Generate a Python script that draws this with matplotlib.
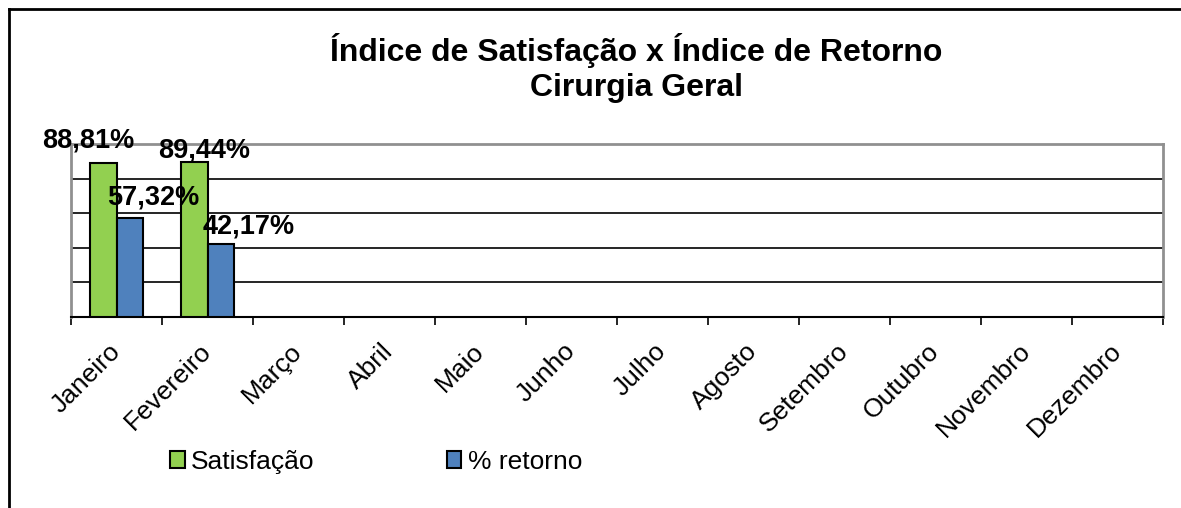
import matplotlib

matplotlib.use("Agg")
import matplotlib.pyplot as plt
import numpy as np
from matplotlib.lines import Line2D

plt.rcParams["font.family"] = ["Liberation Sans", "DejaVu Sans"]

months = ["Janeiro", "Fevereiro", "Março", "Abril", "Maio", "Junho", "Julho",
          "Agosto", "Setembro", "Outubro", "Novembro", "Dezembro"]
satisfacao = [88.81, 89.44]
retorno = [57.32, 42.17]
satisfacao_labels = ["88,81%", "89,44%"]
retorno_labels = ["57,32%", "42,17%"]

# label nudges in points (Excel placed them a little oddly)
sat_offsets = [(-11, 7), (7, -1)]
ret_offsets = [(17, 5), (20, 3)]

GREEN = "#92D050"
BLUE = "#4F81BD"

fig = plt.figure(figsize=(11.81, 5.08), dpi=100)
ax = fig.add_axes([71 / 1181, 1 - 317 / 508, (1163 - 71) / 1181, (317 - 144) / 508])

width = 0.286
x_sat = np.arange(len(satisfacao)) - width / 2
x_ret = np.arange(len(retorno)) + width / 2
ax.bar(x_sat, satisfacao, width, color=GREEN, edgecolor="black", linewidth=1.5,
       label="Satisfação", zorder=3)
ax.bar(x_ret, retorno, width, color=BLUE, edgecolor="black", linewidth=1.5,
       label="% retorno", zorder=3)

for xs, ys, texts, offs in ((x_sat, satisfacao, satisfacao_labels, sat_offsets),
                            (x_ret, retorno, retorno_labels, ret_offsets)):
    for xv, yv, t, off in zip(xs, ys, texts, offs):
        ax.annotate(t, (xv, yv), xytext=off, textcoords="offset points",
                    ha="center", va="bottom", fontsize=19.5, fontweight="bold",
                    zorder=5)

ax.set_xlim(-0.5, len(months) - 0.5)
ax.set_ylim(0, 100)
ax.set_yticks([20, 40, 60, 80])
ax.yaxis.grid(True, color="black", linewidth=1.2, zorder=1)
ax.tick_params(axis="y", left=False, labelleft=False)

ax.set_xticks(np.arange(len(months) + 1) - 0.5)
ax.set_xticklabels([])
ax.set_xticks(np.arange(len(months)), minor=True)
ax.set_xticklabels(months, minor=True, rotation=45, ha="right",
                   rotation_mode="anchor", va="center", fontsize=19)
ax.tick_params(axis="x", which="major", direction="out", length=6, width=1.2,
               color="black")
ax.tick_params(axis="x", which="minor", length=0, pad=22)

for side in ("left", "top", "right"):
    ax.spines[side].set_color("#909090")
    ax.spines[side].set_linewidth(2)
ax.spines["bottom"].set_color("black")
ax.spines["bottom"].set_linewidth(1.5)

fig.text(636 / 1181, 1 - 68 / 508, "Índice de Satisfação x Índice de Retorno\nCirurgia Geral",
         ha="center", va="center", fontsize=23, fontweight="bold", linespacing=1.25)

fig.legend(loc="center left", bbox_to_anchor=(170 / 1181, 1 - 462 / 508), ncol=2,
           frameon=False, fontsize=19, handlelength=0.55, handleheight=0.6,
           handletextpad=0.25, columnspacing=5.0, borderpad=0, borderaxespad=0)

fig.add_artist(Line2D([9 / 1181, 1], [1 - 9 / 508, 1 - 9 / 508], color="black",
                      linewidth=2, transform=fig.transFigure))
fig.add_artist(Line2D([9 / 1181, 9 / 1181], [0, 1 - 9 / 508], color="black",
                      linewidth=2, transform=fig.transFigure))

fig.savefig("out.png", dpi=100)
